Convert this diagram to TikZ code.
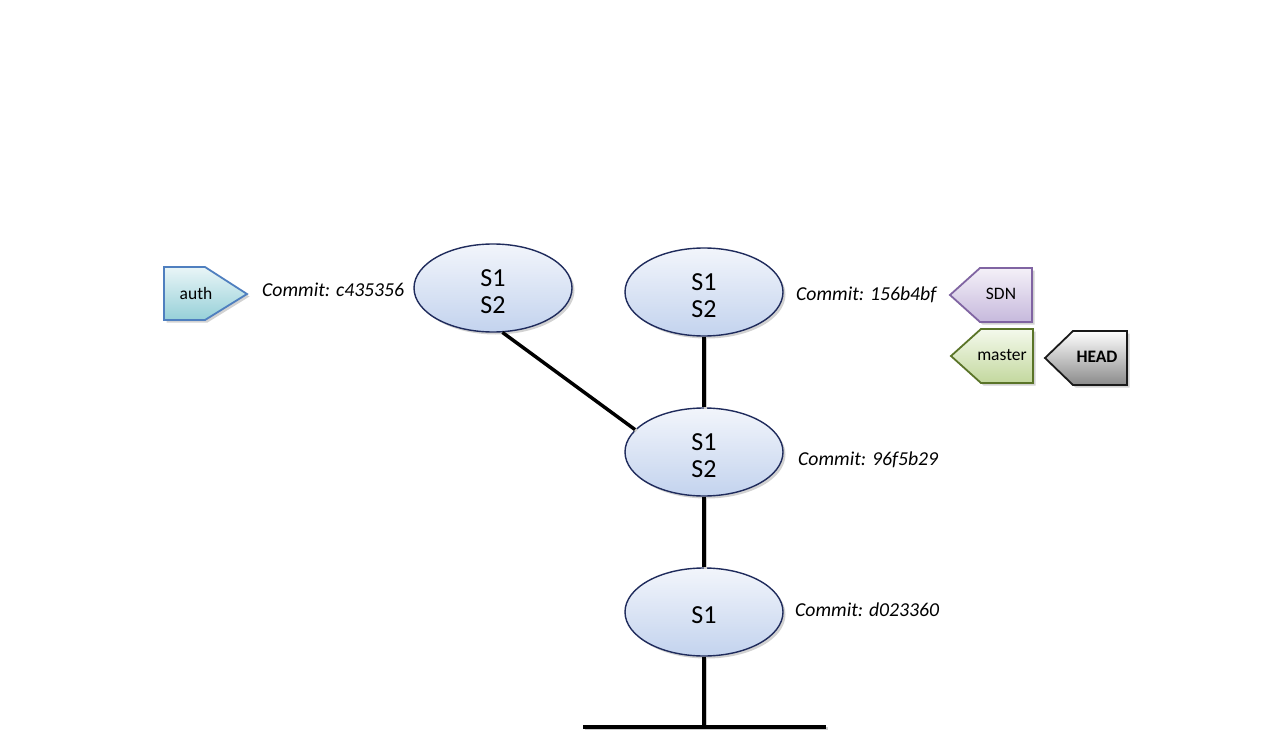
\documentclass[tikz,border=0pt]{standalone}
\usepackage{fontspec}
\setmainfont{Carlito}
\usetikzlibrary{shapes.geometric,shadows}
\definecolor{ellborder}{HTML}{1F2B5C}
\definecolor{elltop}{HTML}{F2F5FB}
\definecolor{ellbot}{HTML}{C3D3EE}
\definecolor{authborder}{HTML}{4F7FBF}
\definecolor{authtop}{HTML}{E9F5F7}
\definecolor{authbot}{HTML}{96D0D8}
\definecolor{sdnborder}{HTML}{8064A2}
\definecolor{sdntop}{HTML}{F4F0F8}
\definecolor{sdnbot}{HTML}{C6B9DC}
\definecolor{masterborder}{HTML}{5A7428}
\definecolor{mastertop}{HTML}{F4F9EC}
\definecolor{masterbot}{HTML}{C3D89E}
\definecolor{headborder}{HTML}{1A1A1A}
\definecolor{headtop}{HTML}{FFFFFF}
\definecolor{headbot}{HTML}{8A8A8A}
\tikzset{
  commit/.style={ellipse, draw=ellborder, line width=1.4pt, top color=elltop, bottom color=ellbot,
    minimum width=158pt, minimum height=88pt, inner sep=0pt, align=center,
    font=\fontsize{26}{27}\selectfont,
    drop shadow={shadow xshift=2.5pt, shadow yshift=-2.5pt, opacity=0.35, fill=gray}},
  link/.style={line width=3.4pt, black,
    preaction={draw=gray!40, line width=3.4pt, transform canvas={xshift=1.6pt, yshift=-1.2pt}}},
  hashlabel/.style={anchor=west, inner sep=0pt, font=\fontsize{19.7}{21}\selectfont\itshape},
  tagtext/.style={inner sep=0pt, font=\fontsize{17.5}{19}\selectfont},
  tagshape/.style={line width=1.8pt, line join=miter,
    drop shadow={shadow xshift=2.5pt, shadow yshift=-2.5pt, opacity=0.35, fill=gray}},
}
\newcommand{\upfill}{\rule{0pt}{24pt}}
\begin{document}
\begin{tikzpicture}[x=1pt,y=-1pt]
\useasboundingbox (0,0) rectangle (1280,738);
\fill[white] (0,0) rectangle (1280,738);

% commits
\node[commit] (c1) at (493,288) {\upfill S1\\S2};
\node[commit] (c2) at (704,292) {\upfill S1\\S2};
\node[commit] (c3) at (704,452) {\upfill S1\\S2};
\node[commit] (c4) at (704,612) {\upfill S1};

% connectors
\coordinate (root) at (704,727);
\coordinate (bl) at (583,727);
\coordinate (br) at (826,727);
\draw[link] (c1.-78) -- (c3.162);
\draw[link] (c2) -- (c3);
\draw[link] (c3) -- (c4);
\draw[link] (c4) -- (root);
\draw[link] (bl) -- (br);

% commit labels
\node[hashlabel] (l1) at (262,290) {Commit: c435356};
\node[hashlabel] (l2) at (796,295) {Commit: 156b4bf};
\node[hashlabel] (l3) at (798,460) {Commit: 96f5b29};
\node[hashlabel] (l4) at (795,610) {Commit: d023360};

% tags
\path[tagshape, draw=authborder, top color=authtop, bottom color=authbot]
  (164,267) -- (205,267) -- (247,294) -- (205,320) -- (164,320) -- cycle;
\node[tagtext] (auth) at (196,293) {auth};

\path[tagshape, draw=sdnborder, top color=sdntop, bottom color=sdnbot]
  (1032,268) -- (980,268) -- (950,295) -- (980,322) -- (1032,322) -- cycle;
\node[tagtext] (sdn) at (1001,294) {SDN};

\path[tagshape, draw=masterborder, top color=mastertop, bottom color=masterbot]
  (1033,329) -- (981,329) -- (951,356) -- (981,383) -- (1033,383) -- cycle;
\node[tagtext] (master) at (1002,355) {master};

\path[tagshape, draw=headborder, top color=headtop, bottom color=headbot]
  (1127,331) -- (1073,331) -- (1045,358) -- (1073,385) -- (1127,385) -- cycle;
\node[tagtext, font=\fontsize{17.5}{19}\selectfont\bfseries] (head) at (1097,357) {HEAD};
\end{tikzpicture}
\end{document}
